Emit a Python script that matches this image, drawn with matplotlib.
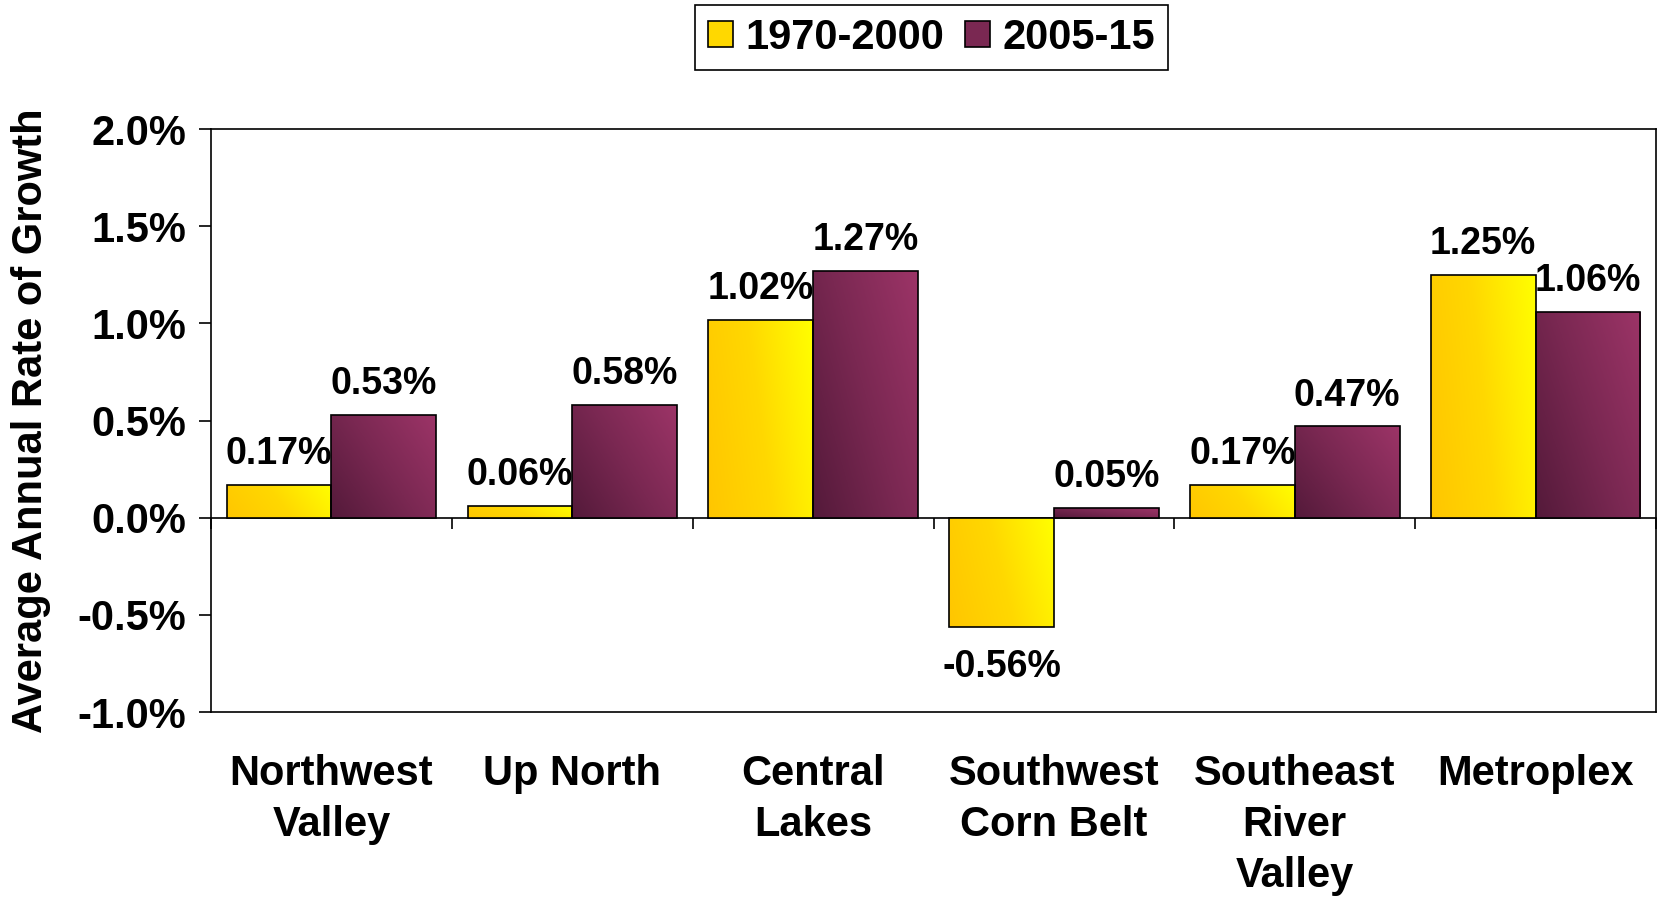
import matplotlib
matplotlib.use("Agg")
import matplotlib.pyplot as plt
import numpy as np
from matplotlib.colors import LinearSegmentedColormap
from matplotlib.patches import Patch
from matplotlib.ticker import FuncFormatter

# ── Data ───────────────────────────────────────────────────────────────────────
categories = ["Northwest\nValley", "Up North", "Central\nLakes",
              "Southwest\nCorn Belt", "Southeast\nRiver\nValley", "Metroplex"]
growth_1970_2000 = [0.17, 0.06, 1.02, -0.56, 0.17, 1.25]
growth_2005_15   = [0.53, 0.58, 1.27, 0.05, 0.47, 1.06]
series_names     = ["1970-2000", "2005-15"]
y_ticks          = [-1.0, -0.5, 0.0, 0.5, 1.0, 1.5, 2.0]

# ── Style ──────────────────────────────────────────────────────────────────────
FONT = "Liberation Sans"
plt.rcParams["font.family"] = [FONT, "DejaVu Sans"]
plt.rcParams["font.weight"] = "bold"

YELLOW_CMAP = LinearSegmentedColormap.from_list("yel", ["#FFC600", "#FFD800", "#FFFF00"])
PURPLE_CMAP = LinearSegmentedColormap.from_list("pur", ["#541A3A", "#7A2852", "#9C3467"])
BAR_W = 0.435
LW = 1.2


def gradient_fill(ax, bars, cmap, wx, wy):
    """Replace each bar's flat face by a diagonal gradient image clipped to it."""
    gx, gy = np.meshgrid(np.linspace(0, 1, 80), np.linspace(0, 1, 80))
    grad = wx * gx + wy * gy
    for b in bars:
        x0, y0 = b.get_x(), b.get_y()
        w, h = b.get_width(), b.get_height()
        ylo, yhi = min(y0, y0 + h), max(y0, y0 + h)
        im = ax.imshow(grad, extent=[x0, x0 + w, ylo, yhi], origin="lower",
                       cmap=cmap, vmin=0, vmax=1, aspect="auto", zorder=2,
                       interpolation="bilinear")
        im.set_clip_path(b)
        b.set_facecolor("none")


fig = plt.figure(figsize=(16.62, 8.98), dpi=100)
ax = fig.add_axes([0.127, 0.207, 0.8694, 0.6493])

x = np.arange(len(categories))
bars1 = ax.bar(x - BAR_W / 2, growth_1970_2000, BAR_W, edgecolor="black",
               linewidth=LW, zorder=3)
bars2 = ax.bar(x + BAR_W / 2, growth_2005_15, BAR_W, edgecolor="black",
               linewidth=LW, zorder=3)
gradient_fill(ax, bars1, YELLOW_CMAP, 0.8, 0.2)
gradient_fill(ax, bars2, PURPLE_CMAP, 0.6, 0.4)

# data labels
for bars, vals in ((bars1, growth_1970_2000), (bars2, growth_2005_15)):
    for b, v in zip(bars, vals):
        cx = b.get_x() + b.get_width() / 2
        if v >= 0:
            ax.annotate(f"{v:.2f}%", (cx, v), xytext=(0, 15), textcoords="offset points",
                        ha="center", va="baseline", fontsize=27, fontweight="bold", zorder=5)
        else:
            ax.annotate(f"{v:.2f}%", (cx, v), xytext=(0, -16), textcoords="offset points",
                        ha="center", va="top", fontsize=27, fontweight="bold", zorder=5)

ymin, ymax = y_ticks[0], y_ticks[-1]
ax.set_xlim(-0.5, len(categories) - 0.5)
ax.set_ylim(ymin, ymax)

# y axis
ax.set_yticks(y_ticks)
ax.yaxis.set_major_formatter(FuncFormatter(lambda v, _: f"{v:.1f}%"))
ax.tick_params(axis="y", direction="out", length=9, width=LW, pad=9, labelsize=30)
ax.set_ylabel("Average Annual Rate of Growth", fontsize=30, fontweight="bold")
ax.yaxis.set_label_coords(-0.111, 0.5)

# x axis: category labels under the frame, no ticks
ax.set_xticks(x)
ax.set_xticklabels(categories, fontsize=30, fontweight="bold", linespacing=1.36, va="top")
ax.tick_params(axis="x", length=0, pad=30)

for s in ax.spines.values():
    s.set_linewidth(LW)

# zero line with category boundary ticks
zero_ax = ax.secondary_xaxis((0 - ymin) / (ymax - ymin))
zero_ax.set_xticks(np.arange(len(categories) + 1) - 0.5)
zero_ax.set_xticklabels([])
zero_ax.tick_params(axis="x", direction="out", length=8, width=LW)
zero_ax.spines["bottom"].set_linewidth(LW)

# legend
handles = [Patch(facecolor="#FFD800", edgecolor="black", linewidth=LW),
           Patch(facecolor="#7A2852", edgecolor="black", linewidth=LW)]
leg = fig.legend(handles, series_names, loc="center", bbox_to_anchor=(0.5605, 0.958),
                 ncol=2, prop={"family": FONT, "weight": "bold", "size": 30},
                 frameon=True, fancybox=False, edgecolor="black", framealpha=1,
                 handlelength=0.6, handleheight=0.6, handletextpad=0.3,
                 columnspacing=0.5, borderpad=0.3, borderaxespad=0)
leg.get_frame().set_linewidth(LW)

fig.savefig("out.png", dpi=100)
